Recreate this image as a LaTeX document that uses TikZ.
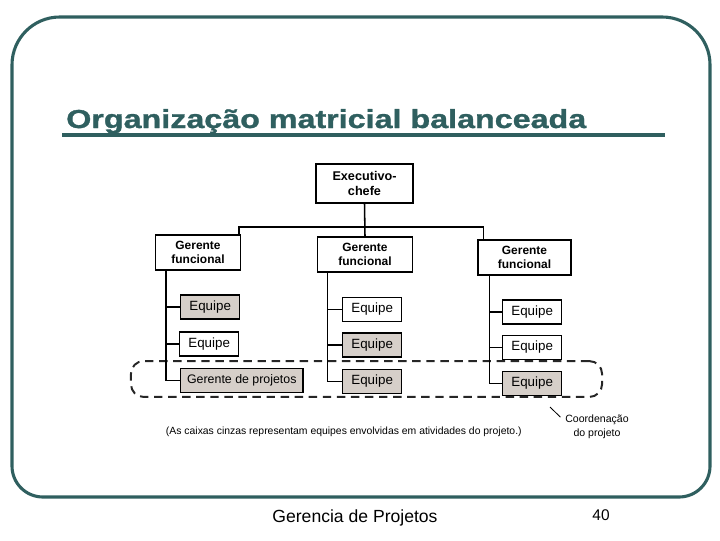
\documentclass[tikz,border=0pt]{standalone}
\usepackage{fontspec}
\setmainfont{Liberation Sans}
\newfontfamily\slidetitlefont[FakeBold=1.2,FakeStretch=1.24]{Liberation Sans Bold}
\usepackage{xcolor}
\usetikzlibrary{calc,positioning}
\definecolor{slideteal}{RGB}{47,95,95}
\definecolor{teamgray}{RGB}{214,207,201}
\tikzset{
  orgbox/.style={draw=black, line width=0.9pt, fill=white, inner sep=1pt,
                 align=center},
  orgboss/.style={orgbox, font=\fontsize{9}{10}\selectfont\bfseries},
  orgfun/.style={orgbox, minimum height=24.8pt,
                 font=\fontsize{8.5}{10}\selectfont\bfseries},
  orgteam/.style={orgbox, anchor=west, minimum width=42pt, minimum height=17pt,
                  font=\fontsize{9.5}{10}\selectfont},
  orgtg/.style={orgteam, fill=teamgray},
  orgw/.style={line width=1.1pt},
  orgnote/.style={font=\fontsize{7.4}{8.5}\selectfont},
  projband/.style={draw=black!85, line width=1.4pt, dash pattern=on 6pt off 4pt,
                   rounded corners=9pt}
}

\begin{document}
\begin{tikzpicture}[x=0.025cm, y=-0.025cm]
  \useasboundingbox (0,0) rectangle (720,540);
  \draw[slideteal, line width=2.2pt] (12,250) [rounded corners=34pt] -- (12,17)
    -- (710,17) -- (710,250) [rounded corners=22pt] -- (710,497) -- (12,497) -- cycle;
  \node[anchor=base west, inner sep=0pt, text=slideteal,
        font=\slidetitlefont\fontsize{18.5}{22}\selectfont] (title) at (66,128)
    {Organização matricial balanceada};
  \draw[slideteal, line width=2.8pt] (62,135) -- (665,135);

  \node[projband, minimum width=335pt, minimum height=25.5pt] (band) at (366.5,379) {};

  \node[orgboss, minimum width=69pt, minimum height=27.6pt] (exec) at (364.5,183.5)
    {Executivo-\\chefe};
  \node[orgfun, minimum width=60pt] (g1) at (198,252.5) {Gerente\\funcional};
  \node[orgfun, minimum width=68pt] (g2) at (365,254.5) {Gerente\\funcional};
  \node[orgfun, minimum width=66pt] (g3) at (524.5,257.5) {Gerente\\funcional};
  \coordinate (bar) at (364.5,227);
  \draw[orgw] (exec.south) -- (g2.north);
  \draw[orgw] ($(g1.north east)+(-2,0)$) |- (bar) -| ($(g3.north west)+(6,0)$);

  \node[orgtg] (t11) at (180,307) {Equipe};
  \node[orgteam] (t12) at (179,344) {Equipe};
  \node[orgtg, minimum width=87pt, font=\fontsize{8.8}{10}\selectfont] (t13) at (180,380.5)
    {Gerente de projetos};
  \coordinate (c1) at ($(g1.south west)+(11,0)$);
  \draw[orgw] (c1) |- (t13.west);
  \draw[orgw] (t11.west) -- (t11.west -| c1);
  \draw[orgw] (t12.west) -- (t12.west -| c1);

  \node[orgteam] (t21) at (342,309.5) {Equipe};
  \node[orgtg] (t22) at (342,345) {Equipe};
  \node[orgtg] (t23) at (342,381.5) {Equipe};
  \coordinate (c2) at ($(g2.south west)+(11,0)$);
  \draw[orgw] (c2) |- (t23.west);
  \draw[orgw] (t21.west) -- (t21.west -| c2);
  \draw[orgw] (t22.west) -- (t22.west -| c2);

  \node[orgteam] (t31) at (502,312) {Equipe};
  \node[orgteam] (t32) at (502,347.5) {Equipe};
  \node[orgtg] (t33) at (502,383.5) {Equipe};
  \coordinate (c3) at ($(g3.south west)+(12,0)$);
  \draw[orgw] (c3) |- (t33.west);
  \draw[orgw] (t31.west) -- (t31.west -| c3);
  \draw[orgw] (t32.west) -- (t32.west -| c3);

  \node[orgnote, anchor=west] (graynote) at (161,432)
    {(As caixas cinzas representam equipes envolvidas em atividades do projeto.)};
  \node[orgnote, font=\fontsize{7.5}{10}\selectfont, align=center] (coordnote) at (597,427)
    {Coordenação\\do projeto};
  \coordinate (notetip) at (550,407);
  \draw[line width=0.6pt] (notetip) -- ([yshift=-5pt]coordnote.north west);

  \node[font=\fontsize{12.5}{14}\selectfont] (footer) at (355,518) {Gerencia de Projetos};
  \node[font=\fontsize{11}{13}\selectfont] (pagenum) at (601,515) {40};
\end{tikzpicture}
\end{document}
